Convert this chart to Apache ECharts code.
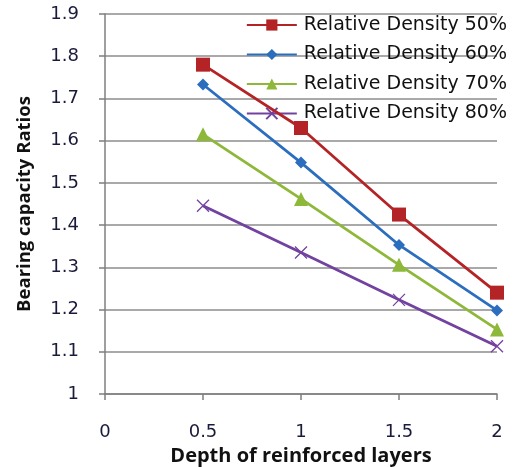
<!DOCTYPE html>
<html>
<head>
<meta charset="utf-8">
<script src="https://cdn.jsdelivr.net/npm/echarts@6/dist/echarts.min.js"></script>
<style>
  html, body { margin: 0; padding: 0; background: #fff; }
  #chart { width: 521px; height: 467px; }
</style>
</head>
<body>
<div id="chart"></div>
<script>
// Depth of reinforced layers (x) vs bearing capacity ratio (y)
const depths = [0.5, 1, 1.5, 2];
const density50 = [1.78, 1.63, 1.425, 1.24];
const density60 = [1.733, 1.548, 1.353, 1.198];
const density70 = [1.615, 1.462, 1.306, 1.153];
const density80 = [1.446, 1.335, 1.223, 1.113];
const seriesNames = ['Relative Density 50%', 'Relative Density 60%', 'Relative Density 70%', 'Relative Density 80%'];
const xTicks = [0, 0.5, 1, 1.5, 2];
const yTicks = [1, 1.1, 1.2, 1.3, 1.4, 1.5, 1.6, 1.7, 1.8, 1.9];

const colors = ['#B42426', '#2C6EBE', '#8DB83A', '#7242A0'];
const crossPath = 'path://M0,0 L10,10 M10,0 L0,10';
const markers = [
  { symbol: 'rect', size: 14 },
  { symbol: 'diamond', size: 12 },
  { symbol: 'triangle', size: 14 },
  { symbol: crossPath, size: 12 }
];
const values = [density50, density60, density70, density80];

const chart = echarts.init(document.getElementById('chart'), null, { renderer: 'canvas' });
const tickFont = "'DejaVu Sans', sans-serif";
const nameFont = "'Open Sans', 'DejaVu Sans', sans-serif";

chart.setOption({
  backgroundColor: '#fff',
  animation: false,
  grid: { left: 105, right: 24, top: 14, bottom: 73, outerBoundsMode: 'none', containLabel: false },
  legend: {
    right: 14,
    top: 15,
    padding: 0,
    orient: 'vertical',
    itemWidth: 50,
    itemHeight: 14,
    itemGap: 9.5,
    textStyle: { fontFamily: tickFont, fontSize: 19, lineHeight: 20, color: '#111', padding: [0, 0, 0, 2] },
    data: seriesNames
  },
  xAxis: {
    type: 'value',
    min: 0,
    max: 2,
    interval: 0.5,
    name: 'Depth of reinforced layers',
    nameLocation: 'middle',
    nameGap: 47,
    nameTextStyle: { fontFamily: nameFont, fontSize: 20, fontWeight: 'bold', color: '#111' },
    axisLine: { lineStyle: { color: '#7f7f7f', width: 1.5 } },
    axisTick: { show: true, length: 6, lineStyle: { color: '#7f7f7f', width: 1.5 } },
    axisLabel: {
      fontFamily: tickFont, fontSize: 18, color: '#1a1a3a', margin: 29,
      formatter: v => xTicks.includes(v) ? String(v) : ''
    },
    splitLine: { show: false }
  },
  yAxis: {
    type: 'value',
    min: 1,
    max: 1.9,
    interval: 0.1,
    name: 'Bearing capacity Ratios',
    nameLocation: 'middle',
    nameGap: 71,
    nameTextStyle: { fontFamily: nameFont, fontSize: 18.5, fontWeight: 'bold', color: '#111' },
    axisLine: { show: true, lineStyle: { color: '#7f7f7f', width: 1.5 } },
    axisTick: { show: true, length: 6, lineStyle: { color: '#7f7f7f', width: 1.5 } },
    axisLabel: {
      fontFamily: tickFont, fontSize: 18, color: '#1a1a3a', margin: 26,
      formatter: v => {
        const t = yTicks.find(y => Math.abs(y - v) < 1e-6);
        return t === undefined ? '' : String(t);
      }
    },
    splitLine: { show: true, lineStyle: { color: '#8c8c8c', width: 1.5 } }
  },
  series: seriesNames.map((name, i) => ({
    name,
    type: 'line',
    data: depths.map((d, j) => [d, values[i][j]]),
    symbol: markers[i].symbol,
    symbolSize: markers[i].size,
    showAllSymbol: true,
    lineStyle: { color: colors[i], width: 2.8 },
    itemStyle: i === 3
      ? { color: colors[i], borderColor: colors[i], borderWidth: 1.3 }
      : { color: colors[i], borderWidth: 0 },
    emphasis: { disabled: true },
    z: 10 - i
  }))
});
</script>
</body>
</html>
